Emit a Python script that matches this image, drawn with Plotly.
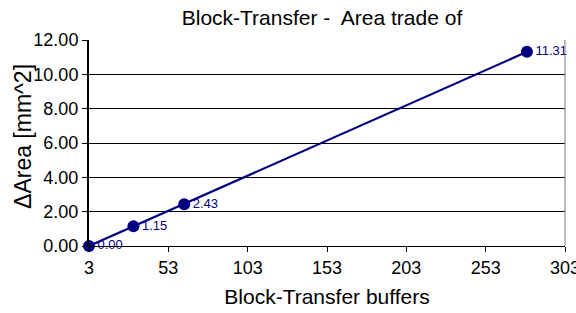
import plotly.graph_objects as go

buffers = [3, 31, 63, 279]
area = [0.00, 1.15, 2.43, 11.31]
labels = ["0.00", "1.15", "2.43", "11.31"]
x_ticks = [3, 53, 103, 153, 203, 253, 303]
y_ticks = [0, 2, 4, 6, 8, 10, 12]

navy = "#000080"
fig = go.Figure()
fig.add_trace(go.Scatter(
    x=buffers, y=area, mode="lines+markers+text",
    line=dict(color=navy, width=2.2),
    marker=dict(color=navy, size=12),
    text=labels, textposition="middle right",
    textfont=dict(color=navy, size=13, family="Liberation Sans, Arial"),
    cliponaxis=False,
))
fig.update_layout(
    width=576, height=313,
    margin=dict(l=89, r=11, t=40, b=67),
    paper_bgcolor="white", plot_bgcolor="white",
    showlegend=False,
    font=dict(family="Liberation Sans, Arial", color="black", size=18),
    title=dict(text="Block-Transfer -  Area trade of", x=0.559, xanchor="center",
               y=0.945, yanchor="middle", font=dict(size=21)),
    xaxis=dict(range=[3, 303], tickvals=x_ticks, ticktext=[str(v) for v in x_ticks],
               showgrid=False, zeroline=False, showline=True, linecolor="black", linewidth=1,
               ticks="outside", ticklen=5, tickcolor="black", automargin=False,
               ticklabeloverflow="allow",
               title=dict(text="Block-Transfer buffers", standoff=12, font=dict(size=21))),
    yaxis=dict(range=[0, 12], tickvals=y_ticks, ticktext=[f"{v:.2f}" for v in y_ticks],
               showgrid=True, gridcolor="black", gridwidth=1, zeroline=False,
               showline=True, linecolor="black", linewidth=2,
               ticks="outside", ticklen=5, tickcolor="black", automargin=False),
    annotations=[dict(text="ΔArea [mm^2]", xref="paper", yref="paper",
                      x=-0.1387, y=0.534, xanchor="center", yanchor="middle",
                      textangle=-90, showarrow=False, font=dict(size=23))],
    shapes=[dict(type="line", xref="paper", yref="paper", x0=1, x1=1, y0=0, y1=1,
                 line=dict(color="#808080", width=1))],
)
fig.write_html("out.html", config={"displayModeBar": False},
               post_script="document.body.style.margin='0';document.body.style.overflow='hidden';")
